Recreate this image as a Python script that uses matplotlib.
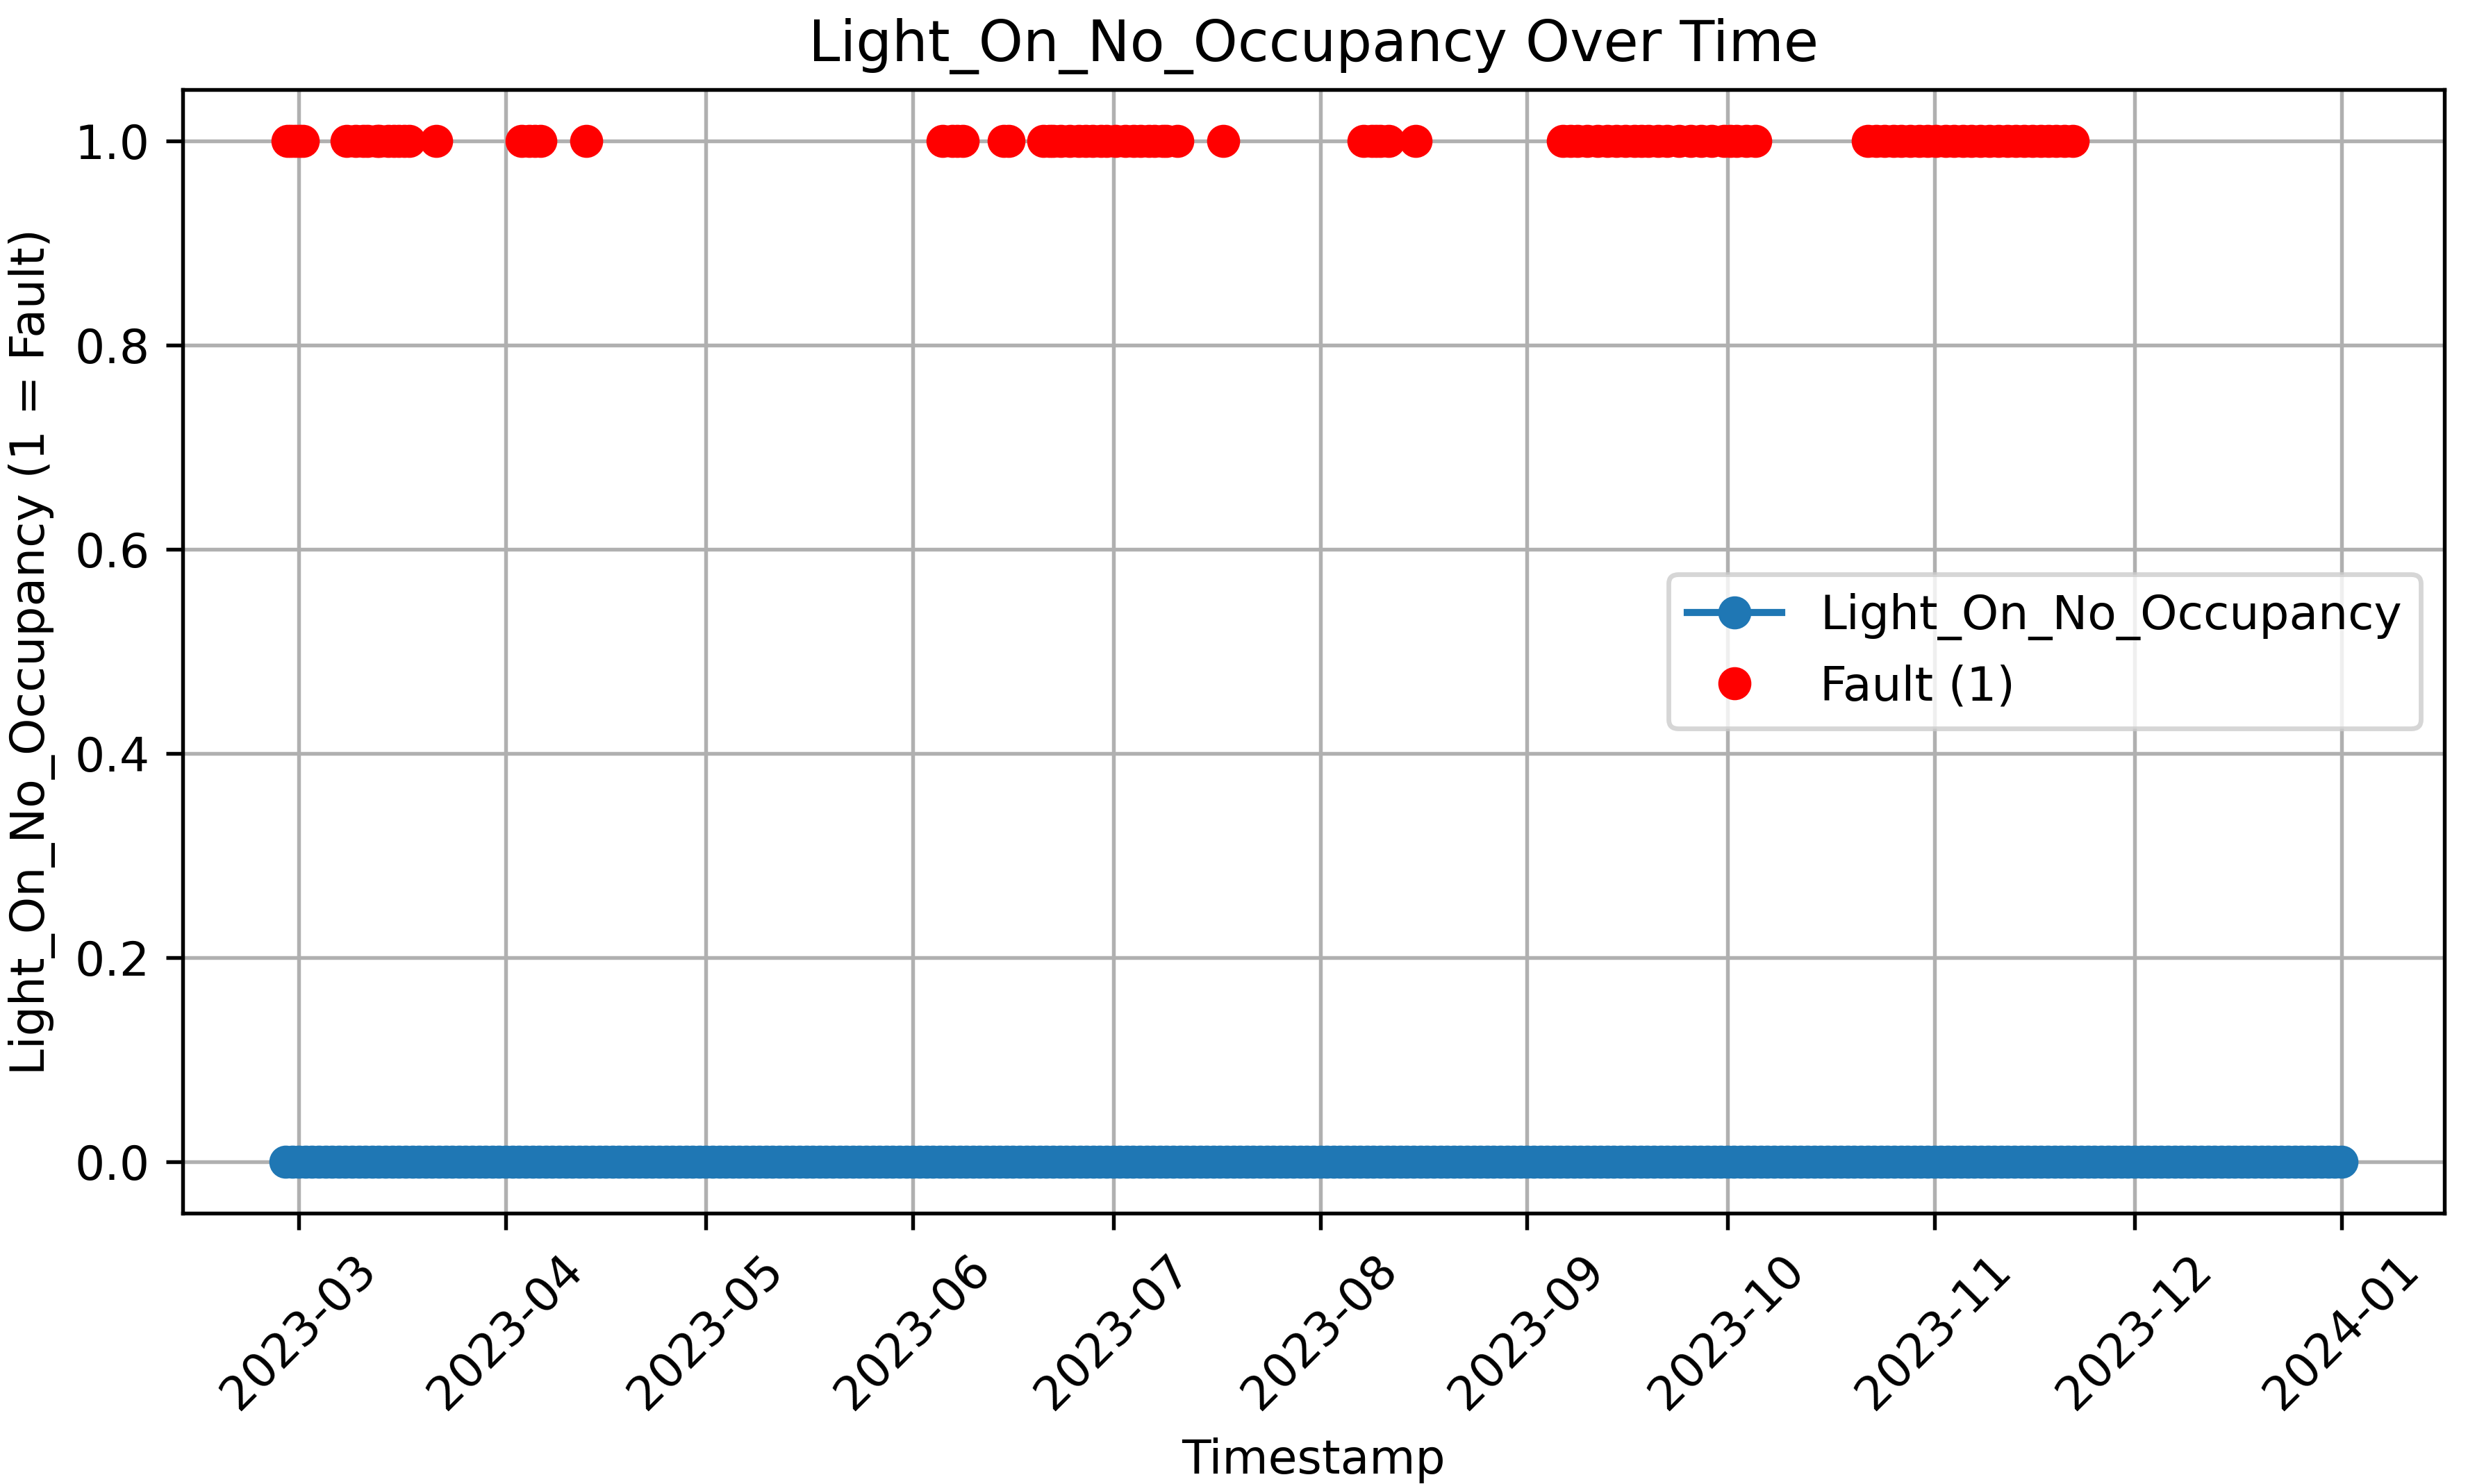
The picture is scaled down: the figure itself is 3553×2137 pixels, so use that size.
import numpy as np
import pandas as pd
import matplotlib
matplotlib.use("Agg")
import matplotlib.pyplot as plt

# daily readings of the flag, all zero on the plotted line
start_date = "2023-02-27"
end_date = "2024-01-01"
timestamps = pd.date_range(start_date, end_date, freq="D")
light_values = np.zeros(len(timestamps))

# timestamps where the fault flag is 1
fault_times = [
    "2023-02-27 08:00", "2023-02-27 20:00", "2023-02-28 10:00",
    "2023-03-01 03:00", "2023-03-01 14:00",
    "2023-03-08 05:00", "2023-03-09 12:00", "2023-03-10 17:00",
    "2023-03-11 07:00", "2023-03-12 19:00", "2023-03-13 02:00",
    "2023-03-14 10:00", "2023-03-15 05:00", "2023-03-16 00:00",
    "2023-03-16 19:00", "2023-03-17 12:00", "2023-03-21 14:00",
    "2023-04-03 10:00", "2023-04-04 14:00", "2023-04-05 09:00",
    "2023-04-06 05:00", "2023-04-13 01:00",
    "2023-06-05 10:00", "2023-06-06 22:00", "2023-06-07 15:00",
    "2023-06-08 12:00", "2023-06-14 14:00", "2023-06-15 07:00",
    "2023-06-20 14:00", "2023-06-21 11:00", "2023-06-22 00:00",
    "2023-06-23 02:00", "2023-06-24 12:00", "2023-06-25 19:00",
    "2023-06-26 20:00", "2023-06-27 22:00", "2023-06-29 03:00",
    "2023-06-30 00:00", "2023-07-01 09:00", "2023-07-02 19:00",
    "2023-07-04 01:00", "2023-07-05 02:00", "2023-07-06 08:00",
    "2023-07-07 05:00", "2023-07-08 10:00", "2023-07-09 00:00",
    "2023-07-10 14:00", "2023-07-17 12:00",
    "2023-08-07 12:00", "2023-08-08 19:00", "2023-08-09 10:00",
    "2023-08-10 00:00", "2023-08-11 07:00", "2023-08-15 07:00",
    "2023-09-06 10:00", "2023-09-07 13:00", "2023-09-08 12:00",
    "2023-09-10 01:00", "2023-09-11 14:00", "2023-09-13 00:00",
    "2023-09-14 10:00", "2023-09-15 18:00", "2023-09-17 02:00",
    "2023-09-18 04:00", "2023-09-19 05:00", "2023-09-20 16:00",
    "2023-09-22 00:00", "2023-09-23 18:00", "2023-09-25 12:00",
    "2023-09-27 02:00", "2023-09-28 14:00", "2023-09-30 12:00",
    "2023-10-01 11:00", "2023-10-02 10:00", "2023-10-03 20:00",
    "2023-10-05 05:00",
    "2023-10-22 00:00", "2023-10-23 08:00", "2023-10-24 14:00",
    "2023-10-25 21:00", "2023-10-27 02:00", "2023-10-28 10:00",
    "2023-10-29 19:00", "2023-10-31 01:00", "2023-11-01 07:00",
    "2023-11-02 16:00", "2023-11-04 00:00", "2023-11-05 06:00",
    "2023-11-06 12:00", "2023-11-07 21:00", "2023-11-09 05:00",
    "2023-11-10 14:00", "2023-11-12 00:00", "2023-11-13 04:00",
    "2023-11-14 10:00", "2023-11-15 18:00", "2023-11-17 00:00",
    "2023-11-18 03:00", "2023-11-19 07:00", "2023-11-20 12:00",
    "2023-11-21 17:00",
]
fault_times = pd.to_datetime(fault_times)
fault_values = np.ones(len(fault_times))


def main():
    dpi = 490
    fig = plt.figure(figsize=(3553 / dpi, 2137 / dpi), dpi=dpi)
    ax = fig.add_subplot(111)
    fig.subplots_adjust(left=0.074, right=0.9904, top=0.9396, bottom=0.1825)

    ax.plot(timestamps, light_values, marker="o", label="Light_On_No_Occupancy")
    ax.plot(fault_times, fault_values, "o", color="red", label="Fault (1)")

    ax.set_title("Light_On_No_Occupancy Over Time")
    ax.set_xlabel("Timestamp")
    ax.set_ylabel("Light_On_No_Occupancy (1 = Fault)")
    plt.xticks(rotation=45)
    ax.grid(True)
    ax.legend(loc="center right")

    fig.savefig("out.png", dpi=dpi)


if __name__ == "__main__":
    main()
